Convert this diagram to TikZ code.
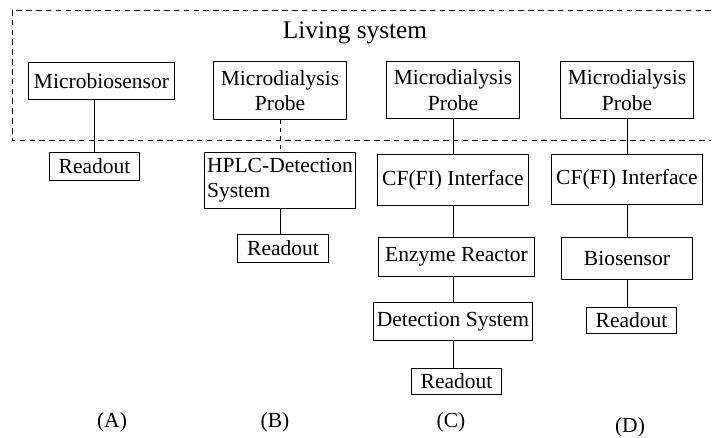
\documentclass[tikz,border=0pt]{standalone}
\usepackage{fontspec}
\setmainfont{Liberation Serif}
\usepackage{tikz}
\usetikzlibrary{positioning,calc}

\begin{document}
\begin{tikzpicture}[x=0.025cm,y=-0.025cm,font=\fontsize{15.3}{18}\selectfont,line width=0.7pt]
\tikzstyle{b}=[draw,inner xsep=2pt,inner ysep=1pt,align=center]
\useasboundingbox (0,0) rectangle (712,438);
% living system (open on the right)
\draw[dashed,dash pattern=on 4pt off 3pt] (711,10) -- (12,10) -- (12,140) -- (711,140);
\node[font=\fontsize{18}{21}\selectfont] (ls) at (355,33) {Living system};
% (A)
\node[b,minimum width=3.63cm,minimum height=0.9cm] (mbs) at (101.5,81) {Microbiosensor};
\node[b,minimum width=2.23cm,minimum height=0.68cm] (roa) at (94.5,166.5) {Readout};
\draw (roa.north) -- (roa.north |- mbs.south);
% (B)
\node[b,minimum width=3.3cm,minimum height=1.43cm] (pb) at (280,90.5) {Microdialysis\\ Probe};
\node[b,align=left,minimum width=3.73cm,minimum height=1.38cm] (hplc) at (280,180.5) {HPLC-Detection\\ System};
\node[b,minimum width=2.25cm,minimum height=0.7cm] (rob) at (283,248) {Readout};
\draw[dashed] (pb) -- (hplc); \draw (hplc.south) -- (hplc.south |- rob.north);
% (C)
\node[b,minimum width=3.33cm,minimum height=1.4cm] (pc) at (453,90) {Microdialysis\\ Probe};
\node[b,minimum width=3.75cm,minimum height=1.25cm] (cfc) at (453,180) {CF(FI) Interface};
\node[b,minimum width=3.88cm,minimum height=0.95cm] (enz) at (456.5,257) {Enzyme Reactor};
\node[b,minimum width=3.95cm,minimum height=0.93cm] (det) at (453,321.5) {Detection System};
\node[b,minimum width=2.23cm,minimum height=0.65cm] (roc) at (456.5,381) {Readout};
\draw (pc) -- (cfc); \draw (cfc.south) -- (cfc.south |- enz.north);
\draw (cfc.south |- enz.south) -- (det.north); \draw (det.south) -- (det.south |- roc.north);
% (D)
\node[b,minimum width=3.3cm,minimum height=1.4cm] (pd) at (627,90) {Microdialysis\\ Probe};
\node[b,minimum width=3.78cm,minimum height=1.23cm] (cfd) at (627,179.5) {CF(FI) Interface};
\node[b,minimum width=3.25cm,minimum height=1.03cm] (bio) at (627,258.5) {Biosensor};
\node[b,minimum width=2.23cm,minimum height=0.65cm] (rod) at (631.5,320) {Readout};
\draw (pd) -- (cfd); \draw (cfd) -- (bio); \draw (bio.south) -- (bio.south |- rod.north);
% labels
\node (la) at (112,422) {(A)}; \node (lb) at (275,422) {(B)};
\node (lc) at (451,422) {(C)}; \node (ld) at (630,427) {(D)};
\end{tikzpicture}
\end{document}
